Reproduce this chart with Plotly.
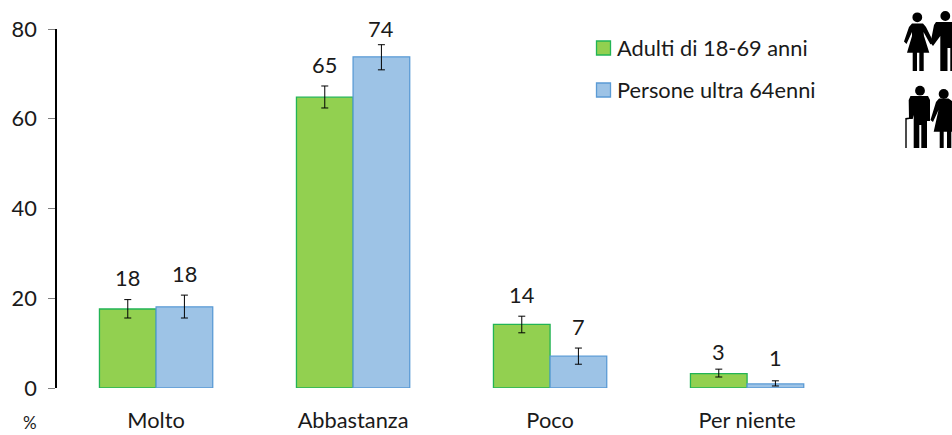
import plotly.graph_objects as go

categories = ["Molto", "Abbastanza", "Poco", "Per niente"]
series_names = ["Adulti di 18-69 anni", "Persone ultra 64enni"]
adulti = [17.6, 64.8, 14.2, 3.2]
ultra = [18.1, 73.8, 7.1, 0.9]
adulti_plus = [2.1, 2.5, 1.8, 1.0]
adulti_minus = [2.0, 2.4, 1.9, 0.75]
ultra_plus = [2.6, 2.7, 1.8, 0.7]
ultra_minus = [2.5, 2.9, 1.8, 0.45]
adulti_labels = ["18", "65", "14", "3"]
ultra_labels = ["18", "74", "7", "1"]
y_ticks = [0, 20, 40, 60, 80]

W, H = 952, 435
L, R, T, B = 57, 845, 29, 388
FONT = "Lato"
TXT = "#1a1a1a"
FS = 21.8
GREEN, GREEN_EDGE = "#92D050", "#22B455"
BLUE, BLUE_EDGE = "#9DC3E6", "#5B9BD5"

def px(x):
    return (x - L) / (R - L)

def py(y):
    return (B - y) / (B - T)

def path(points):
    return "M" + " L".join(f"{px(x):.5f},{py(y):.5f}" for x, y in points) + " Z"

def circle(cx, cy, r):
    return dict(type="circle", xref="paper", yref="paper", x0=px(cx - r), x1=px(cx + r),
                y0=py(cy + r), y1=py(cy - r), fillcolor="black", line_width=0, layer="above")

def poly(points):
    return dict(type="path", xref="paper", yref="paper", path=path(points),
                fillcolor="black", line_width=0, layer="above")

def swatch(x0, y0, fill, edge):
    return dict(type="rect", xref="paper", yref="paper", x0=px(x0), x1=px(x0 + 14),
                y0=py(y0 + 14), y1=py(y0), fillcolor=fill, line=dict(color=edge, width=1.3), layer="above")

shapes = [
    swatch(596.5, 41, GREEN, GREEN_EDGE), swatch(596.5, 83, BLUE, BLUE_EDGE),
    # top couple
    circle(917.3, 17.3, 4.9), circle(945.3, 16, 4.9),
    poly([(912, 23.5), (923, 23.5), (926, 27), (933, 41), (930.5, 44.5), (923.5, 32), (924, 36),
          (929.3, 52.7), (923.7, 52.7), (923.7, 71), (919.3, 71), (919.3, 52.7), (917, 52.7), (917, 71),
          (912.7, 71), (912.7, 52.7), (907, 52.7), (912, 36), (912, 32), (906.5, 44), (904, 41.5), (909, 27)]),
    poly([(936, 22), (952, 22), (952, 71), (950.3, 71), (950.3, 48), (947.5, 48), (947.5, 71), (940.3, 71),
          (940.3, 36), (933, 46), (930.5, 43), (934, 25)]),
    # bottom couple
    circle(920, 90.7, 4.9), circle(943.7, 94, 5),
    poly([(910.5, 96), (928, 96), (930, 100), (930, 121), (927, 121), (927, 148), (921.3, 148), (921.3, 125),
          (919.3, 125), (919.3, 148), (913.7, 148), (913.7, 115), (912.7, 119), (909, 119), (908.7, 100)]),
    poly([(905.3, 118), (909.5, 117.5), (909.5, 119), (906.7, 119.5), (906.7, 148), (905.3, 148)]),
    poly([(939, 98.5), (948.5, 98.5), (952, 101), (952, 131.7), (951.3, 131.7), (951.3, 148), (947, 148),
          (947, 131.7), (943.7, 131.7), (943.7, 148), (939.7, 148), (939.7, 131.7), (933.7, 131.7),
          (938.5, 110), (933, 122), (930.5, 120), (936, 102)]),
]

fig = go.Figure()
for name, vals, plus, minus, fill, edge in [
    (series_names[0], adulti, adulti_plus, adulti_minus, GREEN, GREEN_EDGE),
    (series_names[1], ultra, ultra_plus, ultra_minus, BLUE, BLUE_EDGE),
]:
    fig.add_bar(x=categories, y=vals, name=name,
                marker=dict(color=fill, line=dict(color=edge, width=1.3)),
                error_y=dict(type="data", symmetric=False, array=plus, arrayminus=minus,
                             color="black", thickness=1, width=3.5))

label_shift = [[7, 6, 6, 2], [6, 1, 6, 8]]
annotations = []
for s, (vals, plus, labels, off) in enumerate([
    (adulti, adulti_plus, adulti_labels, -0.144),
    (ultra, ultra_plus, ultra_labels, 0.144),
]):
    for i in range(len(categories)):
        annotations.append(dict(x=i + off, y=vals[i] + plus[i], text=labels[i], showarrow=False,
                                xref="x", yref="y", yanchor="bottom", yshift=label_shift[s][i],
                                font=dict(family=FONT, size=FS, color=TXT)))
annotations.append(dict(x=px(30), y=py(434), xref="paper", yref="paper", text="%", showarrow=False,
                        xanchor="center", yanchor="bottom", borderpad=0,
                        font=dict(family=FONT, size=17, color=TXT)))
for name, yc in zip(series_names, [48, 89]):
    annotations.append(dict(x=px(614.5), y=py(yc), xref="paper", yref="paper", text=name, showarrow=False,
                            xanchor="left", yanchor="middle", font=dict(family=FONT, size=FS, color=TXT)))

fig.update_layout(
    width=W, height=H, autosize=False,
    margin=dict(l=L, r=W - R, t=T, b=H - B, pad=0),
    paper_bgcolor="white", plot_bgcolor="white",
    barmode="group", bargap=0.425, bargroupgap=0,
    font=dict(family=FONT, size=FS, color=TXT),
    showlegend=False,
    xaxis=dict(showgrid=False, showline=False, ticks="", zeroline=False, range=[-0.503, 3.497], automargin=False,
               ticklabelstandoff=17, tickfont=dict(family=FONT, size=FS, color=TXT)),
    yaxis=dict(range=[0, 80], tickvals=y_ticks, showgrid=False, zeroline=False, showline=True, automargin=False,
               linecolor="black", linewidth=1.6, ticks="outside", ticklen=7, tickcolor="#7f7f7f",
               tickwidth=1, ticklabelstandoff=7, tickfont=dict(family=FONT, size=FS, color=TXT)),
    shapes=shapes, annotations=annotations,
)
fig.write_html("out.html", config={"displayModeBar": False},
               post_script="document.body.style.margin='0';document.documentElement.style.overflow='hidden';")
